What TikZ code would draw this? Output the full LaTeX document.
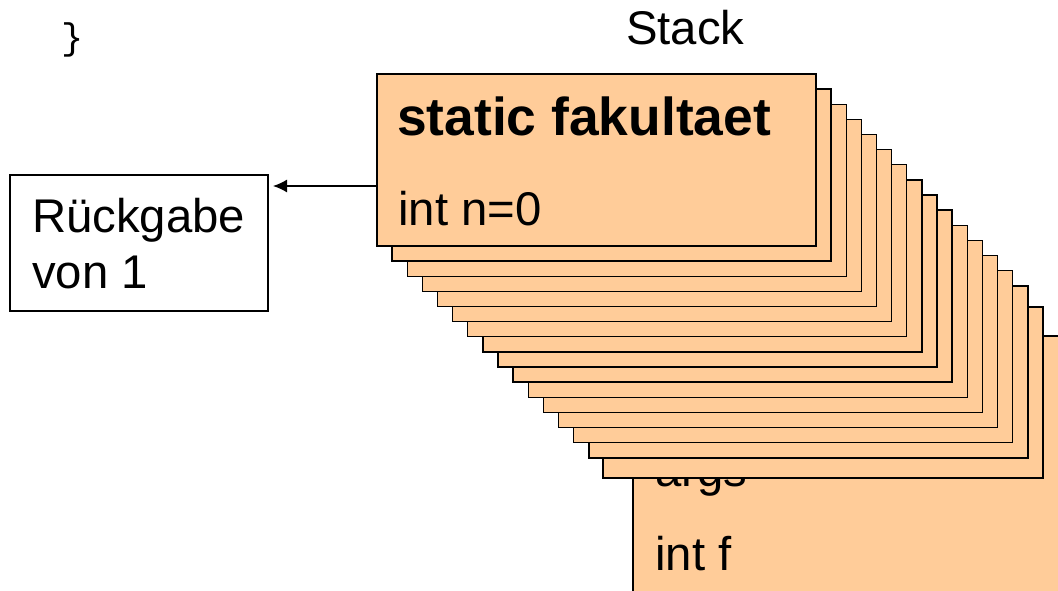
\documentclass[tikz,border=0pt]{standalone}
\usepackage{fontspec}
\setmainfont{Liberation Sans}
\newfontfamily\codefont{Liberation Mono}
\usetikzlibrary{arrows.meta}
\definecolor{framefill}{HTML}{FFCC99}

\begin{document}
\begin{tikzpicture}[x=1pt,y=-1pt,
  frame/.style={draw=black, line width=1.4pt, fill=framefill, inner sep=0pt,
    outer sep=0pt, anchor=north west, minimum width=439pt, minimum height=172pt},
  plainbox/.style={draw=black, line width=1.2pt, fill=white, inner sep=0pt,
    outer sep=0pt, anchor=north west},
  txt/.style={anchor=base west, inner sep=0pt, font=\fontsize{47.3}{55}\selectfont},
  txtb/.style={anchor=base west, inner sep=0pt,
    font=\bfseries\fontsize{53.4}{60}\selectfont},
  ret/.style={-{Latex[length=14pt,width=13pt]}, line width=1.4pt}]
\useasboundingbox (0,0) rectangle (1058,591);
\clip (0,0) rectangle (1058,591);

% closing brace of the source code
\node[anchor=base west, inner sep=0pt, font=\codefont\fontsize{37}{40}\selectfont]
  (brace) at (61,50) {\}};

% heading of the stack
\node[txt] (stack) at (626,45) {Stack};

% frame of main at the bottom of the stack
\node[frame, minimum width=480pt, minimum height=300pt] (mainf) at (633,336) {};
\node[txt] (args) at (655,486) {args};
\node[txt] (intf) at (655,570) {int f};

% recursive frames of fakultaet, deepest call in front
\node[frame, minimum width=440pt, minimum height=171pt] (f15) at (603,307) {};
\foreach \k in {14,...,0} {
  \node[frame] (f\k) at ({377+15.13*\k},{74+15.13*\k}) {};
}
\node[txtb] (title) at (397,136) {static fakultaet};
\node[txt] (nval) at (398,225) {int n=0};

% returned value
\node[plainbox, minimum width=258pt, minimum height=136pt] (retbox) at (10,175) {};
\node[txt] (ret1) at (32,233) {Rückgabe};
\node[txt] (ret2) at (32,288) {von 1};

\coordinate (arrowrow) at (0,186);
\draw[ret] (f0.west |- arrowrow) -- ([xshift=5pt]retbox.east |- arrowrow);
\end{tikzpicture}
\end{document}
